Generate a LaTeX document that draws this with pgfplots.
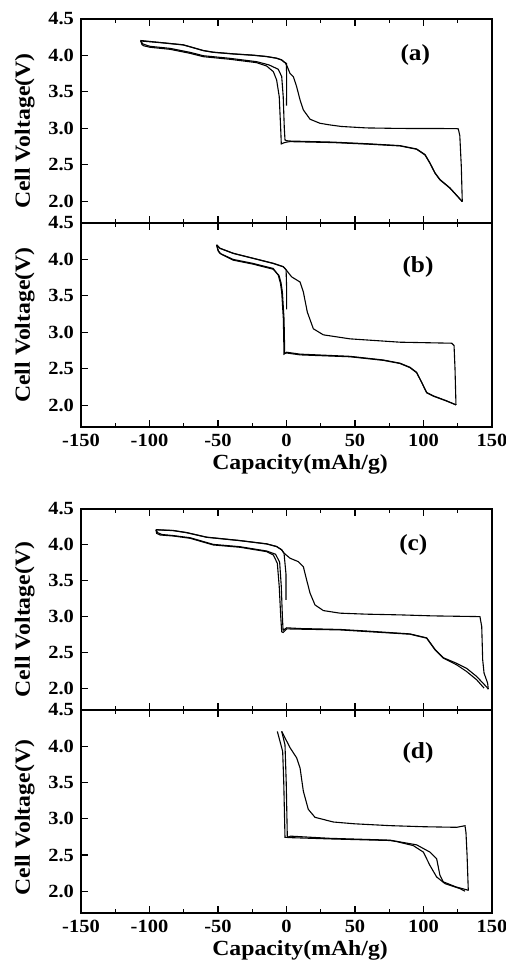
\documentclass[border=0pt]{standalone}
\usepackage{fontspec}
\setmainfont{Liberation Serif}[FakeStretch=1.1]
\usepackage{pgfplots}
\pgfplotsset{compat=1.18}
\pgfplotsset{
  panel/.style={
    width=205.5pt, scale only axis,
    xmin=-150, xmax=150, ymin=1.7, ymax=4.5,
    xtick={-150,-100,-50,0,50,100,150},
    ytick={2,2.5,3,3.5,4,4.5},
    yticklabels={2.0,2.5,3.0,3.5,4.0,4.5},
    minor x tick num=1,
    tick align=inside, xtick pos=both, ytick pos=left,
    major tick length=3.5pt, minor tick length=2pt,
    axis line style={line width=0.7pt},
    every tick/.style={black, line width=0.6pt},
    tick label style={font=\bfseries\fontsize{9.3}{10}\selectfont},
    label style={font=\bfseries\fontsize{10.8}{12}\selectfont},
    ylabel={Cell Voltage(V)},
    cycle list={{black, mark=none, line width=0.55pt}},
  },
  nolab/.style={xticklabels={}},
  lab/.style={xticklabels={-150,-100,-50,0,50,100,150},
    xlabel={Capacity(mAh/g)},
    xlabel style={at={(axis description cs:0.533,0)}, anchor=center, yshift=-18.5pt}},
  curve/.style={black, mark=none, line width=0.55pt},
}
\newcommand{\plab}[3]{\node[font=\bfseries\fontsize{11.5}{12}\selectfont] at (axis cs:#1,#2) {#3};}
\begin{document}
\begin{tikzpicture}
\path[use as bounding box] (0,0) rectangle (253pt,485.5pt);
% ---------------- (a)
\begin{axis}[panel, nolab, at={(40.5pt,374pt)}, anchor=south west, height=102pt,
  ylabel style={at={(axis description cs:-0.137,0.45)}, anchor=center}]
\addplot[curve] coordinates {(0,3.31) (0.1,3.6) (0,3.89) (-2,3.912) (-3.6,3.938) (-7.3,3.961) (-14.6,3.984) (-24.3,4.002) (-38.9,4.020) (-53.5,4.043) (-60.8,4.066) (-69.3,4.112) (-75.4,4.144) (-92.4,4.176) (-104.5,4.195) (-106.5,4.203)};
\addplot[curve] coordinates {(128.3,1.994) (127.6,2.475) (126.5,2.9) (125.4,2.991) (124,2.996) (100,2.997) (82.6,2.998) (58.3,3.005) (40,3.025) (31.7,3.046) (24.4,3.069) (17.2,3.124) (12.3,3.252) (9.9,3.389) (7.4,3.571) (5,3.709) (2.5,3.755) (0.5,3.85) (-1,3.90) (-2,3.915) (-3.6,3.94) (-7.3,3.963) (-14.6,3.986) (-24.3,4.004) (-38.9,4.022) (-53.5,4.045) (-60.8,4.068) (-69.3,4.114) (-75.4,4.146) (-92.4,4.178) (-106.5,4.205)};
\addplot[curve] coordinates {(-106.5,4.203) (-105.5,4.15) (-104.5,4.134) (-99.6,4.112) (-85,4.084) (-70.4,4.029) (-60.7,3.983) (-41.2,3.947) (-21.8,3.901) (-14.5,3.855) (-9.6,3.777) (-7.2,3.663) (-5.3,3.434) (-4.2,2.977) (-3.8,2.785) (-2,2.80) (0,2.81) (2.5,2.817) (34,2.804) (60.9,2.781) (82.8,2.758) (95,2.712) (101.1,2.634) (104.7,2.52) (108.4,2.383) (112,2.292) (119.3,2.178) (128.3,1.994)};
\addplot[curve] coordinates {(-106.5,4.203) (-105,4.16) (-103,4.145) (-99.6,4.125) (-85,4.097) (-70.4,4.042) (-60.7,3.996) (-41.2,3.96) (-21.8,3.914) (-12.8,3.87) (-6,3.81) (-3.5,3.71) (-2.4,3.434) (-1.6,3.0) (-1.1,2.84) (0,2.83) (2.5,2.825) (34,2.81) (60.9,2.786) (82.8,2.762) (95,2.716) (101.1,2.64) (104.7,2.525) (108.4,2.388) (112,2.297) (119.3,2.182) (128.3,1.994)};
\plab{94}{4.0}{(a)}
\end{axis}
% ---------------- (b)
\begin{axis}[panel, lab, at={(40.5pt,272pt)}, anchor=south west, height=102pt,
  ylabel style={at={(axis description cs:-0.137,0.5)}, anchor=center}]
\addplot[curve] coordinates {(0.1,3.315) (0.1,3.6) (-0.3,3.86) (-2.4,3.899) (-9.7,3.945) (-24.3,4.014) (-38.9,4.083) (-48.6,4.152) (-51,4.198)};
\addplot[curve] coordinates {(123.7,2.004) (123,2.5) (122.3,2.818) (120.6,2.85) (82.8,2.864) (46.3,2.91) (26.9,2.965) (19.6,3.048) (15.2,3.277) (12.3,3.553) (9.9,3.69) (3.8,3.76) (-1.1,3.876) (-2.4,3.901) (-9.7,3.947) (-24.3,4.016) (-38.9,4.085) (-48.6,4.154) (-51,4.2)};
\addplot[curve] coordinates {(-51,4.198) (-50,4.12) (-48.6,4.083) (-38.9,4.0) (-24.3,3.945) (-9.7,3.876) (-6,3.783) (-4.5,3.68) (-3.5,3.553) (-2.3,3.186) (-1.8,2.70) (0.1,2.726) (9.9,2.70) (46.3,2.67) (70.6,2.62) (82.8,2.576) (90.1,2.52) (95,2.45) (98.7,2.312) (102.3,2.174) (107.1,2.128) (116.9,2.059) (123.7,2.004)};
\addplot[curve] coordinates {(-51,4.198) (-49.5,4.11) (-47.5,4.07) (-38.9,3.99) (-24.3,3.935) (-9.7,3.866) (-5.5,3.78) (-4,3.68) (-3,3.55) (-1.8,3.186) (-1.3,2.71) (0.1,2.716) (9.9,2.69) (46.3,2.664) (70.6,2.615) (82.8,2.572) (90.1,2.515) (95,2.445) (98.7,2.31) (102.3,2.17) (107.1,2.124) (116.9,2.056) (123.7,2.004)};
\plab{96}{3.9}{(b)}
\end{axis}
% ---------------- (c)
\begin{axis}[panel, nolab, at={(40.5pt,130.5pt)}, anchor=south west, height=100.5pt,
  ylabel style={at={(axis description cs:-0.137,0.45)}, anchor=center}]
\addplot[curve] coordinates {(-0.4,3.234) (-0.4,3.6) (-1.8,3.883) (-3.5,3.93) (-7.2,3.976) (-14.5,4.013) (-34,4.059) (-58.3,4.106) (-72.9,4.17) (-82.7,4.199) (-95.3,4.21)};
\addplot[curve] coordinates {(147.3,1.99) (146.8,2.075) (144.2,2.214) (143.2,2.4) (142.5,2.862) (141.2,3.001) (106.9,3.011) (82.8,3.025) (58.3,3.035) (39,3.049) (26.9,3.085) (20.8,3.164) (17.2,3.327) (14.7,3.512) (12.3,3.697) (8.6,3.767) (2.6,3.814) (-1.8,3.885) (-3.5,3.932) (-7.2,3.978) (-14.5,4.015) (-34,4.061) (-58.3,4.108) (-72.9,4.172) (-82.7,4.201) (-95.3,4.212)};
\addplot[curve] coordinates {(-95.3,4.21) (-94.8,4.161) (-92.3,4.138) (-82.7,4.124) (-70.4,4.092) (-53.4,3.999) (-34,3.967) (-14.5,3.906) (-9.6,3.86) (-6.7,3.744) (-5.3,3.419) (-4.2,3.0) (-3.5,2.79) (-2.5,2.78) (0.1,2.83) (9.9,2.826) (39,2.816) (58.5,2.793) (90.1,2.756) (102.3,2.701) (108.4,2.538) (114.5,2.423) (124.2,2.329) (131.5,2.236) (138.8,2.121) (144.2,2.005)};
\addplot[curve] coordinates {(-95.3,4.21) (-94,4.17) (-91,4.145) (-82.7,4.13) (-70.4,4.1) (-53.4,4.007) (-34,3.975) (-14.5,3.915) (-8,3.87) (-5,3.76) (-3.8,3.42) (-3,3.0) (-2.5,2.81) (0.1,2.845) (9.9,2.835) (39,2.822) (58.5,2.8) (90.1,2.76) (102.3,2.705) (108.4,2.545) (114.5,2.428) (124.2,2.35) (131.5,2.28) (138.8,2.167) (146.1,2.02) (147.3,1.99)};
\plab{92.6}{4.0}{(c)}
\end{axis}
% ---------------- (d)
\begin{axis}[panel, lab, at={(40.5pt,29pt)}, anchor=south west, height=101.5pt,
  ylabel style={at={(axis description cs:-0.137,0.47)}, anchor=center}]
\addplot[curve] coordinates {(-6.7,4.205) (-4.5,4.05) (-2.8,3.93) (-2,3.5) (-1.1,2.745) (2,2.74) (31.7,2.722) (75.5,2.70) (80.4,2.685) (92.5,2.63) (99.9,2.54) (104.7,2.356) (109.6,2.197) (115.7,2.105) (126.6,2.037) (130.3,2.0)};
\addplot[curve] coordinates {(132.7,2.01) (131.8,2.5) (131,2.81) (130.3,2.904) (124.2,2.882) (100,2.89) (75.5,2.905) (50,2.93) (34.2,2.955) (20.8,3.02) (15.9,3.13) (12.3,3.38) (9.9,3.70) (7.4,3.84) (2.6,3.98) (-3.5,4.205)};
\addplot[curve] coordinates {(-3.5,4.205) (-1.1,4.02) (-0.2,3.5) (0.6,2.745) (3,2.76) (31.7,2.73) (75.5,2.705) (95,2.64) (104.7,2.54) (109.6,2.448) (112,2.22) (114.4,2.13) (123.7,2.06) (132.7,2.014)};
\plab{96}{3.91}{(d)}
\end{axis}
\end{tikzpicture}
\end{document}
